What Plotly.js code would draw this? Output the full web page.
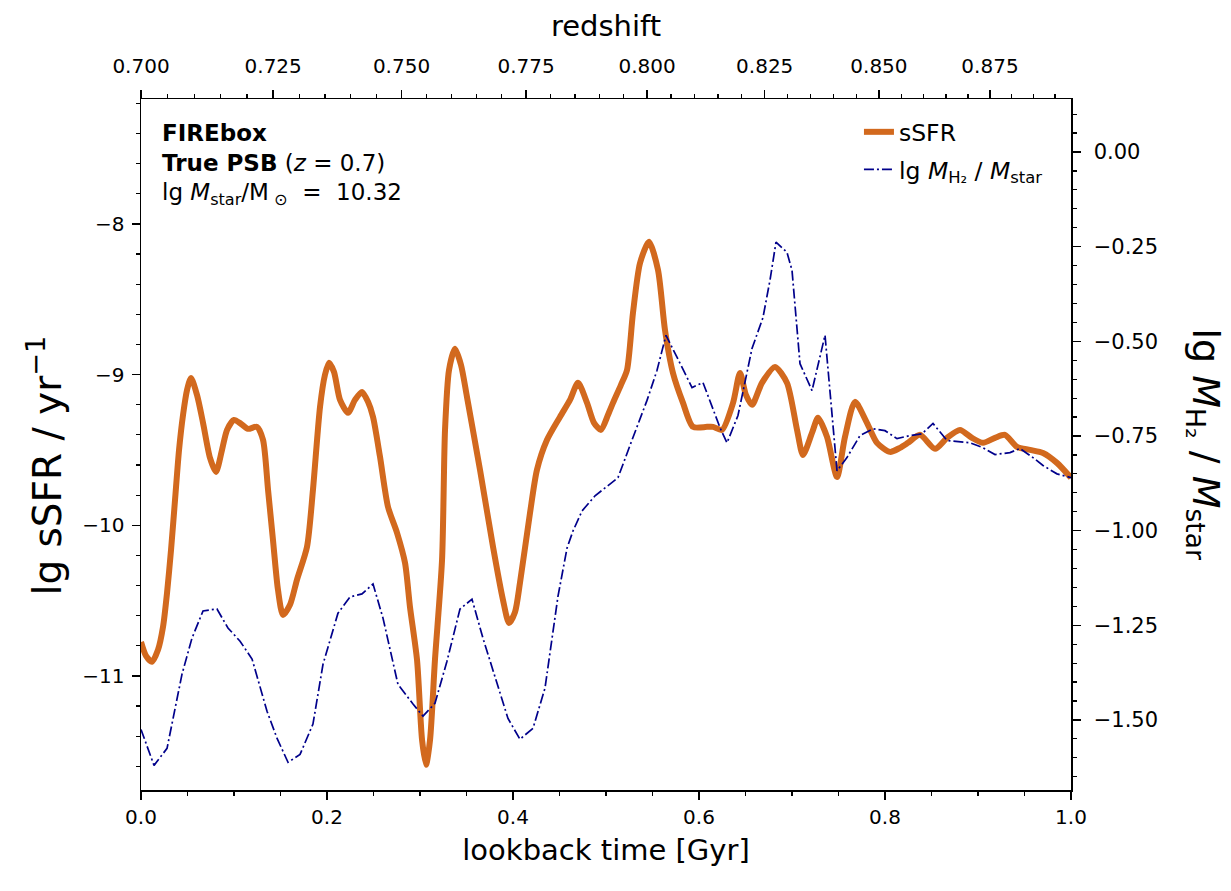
<!DOCTYPE html>
<html>
<head>
<meta charset="utf-8">
<script src="https://cdn.plot.ly/plotly-3.0.1.min.js"></script>
<style>
  html, body { margin: 0; padding: 0; background: #ffffff; }
  #chart { width: 1231px; height: 891px; }
</style>
</head>
<body>
<div id="chart"></div>
<script>
// Specific star formation rate of the galaxy (smoothed), lg sSFR / yr^-1
const lookbackSSFR = [
  0.0000, 0.0054, 0.0118, 0.0183, 0.0237, 0.0280, 0.0323, 0.0366, 0.0409, 0.0452,
  0.0495, 0.0538,
  0.0602, 0.0667, 0.0742, 0.0806, 0.0871, 0.0925, 0.1000, 0.1075, 0.1151, 0.1247,
  0.1312, 0.1366, 0.1419, 0.1473, 0.1527, 0.1602, 0.1677, 0.1785, 0.1849, 0.1925,
  0.1978, 0.2022, 0.2075, 0.2140, 0.2226, 0.2301, 0.2376, 0.2441, 0.2495, 0.2570,
  0.2656, 0.2753, 0.2839, 0.2892, 0.2968, 0.3022, 0.3065, 0.3108, 0.3161, 0.3237,
  0.3269, 0.3312, 0.3376, 0.3441, 0.3505, 0.3645, 0.3785, 0.3892, 0.3957, 0.4022,
  0.4075, 0.4183, 0.4258, 0.4366, 0.4505, 0.4613, 0.4699, 0.4796, 0.4871, 0.4946,
  0.5022, 0.5075, 0.5161, 0.5226, 0.5290, 0.5366, 0.5462, 0.5559, 0.5634, 0.5720,
  0.5828, 0.5935, 0.6086, 0.6151, 0.6247, 0.6366, 0.6441, 0.6505, 0.6570, 0.6677,
  0.6817, 0.6946, 0.7054, 0.7118, 0.7215, 0.7280, 0.7376, 0.7484, 0.7570, 0.7677,
  0.7806, 0.7914, 0.8054, 0.8161, 0.8247, 0.8376, 0.8538, 0.8667, 0.8806, 0.8935,
  0.9054, 0.9183, 0.9290, 0.9419, 0.9559, 0.9699, 0.9849, 1.0000
];
const sSFR = [
  -10.774, -10.867, -10.906, -10.827, -10.674, -10.449, -10.163, -9.831, -9.500, -9.267,
  -9.102, -9.022,
  -9.135, -9.320, -9.553, -9.646, -9.500, -9.367, -9.301, -9.327, -9.360, -9.347,
  -9.433, -9.765, -10.097, -10.429, -10.595, -10.528, -10.362, -10.143, -9.765, -9.214,
  -9.002, -8.922, -8.982, -9.168, -9.254, -9.168, -9.115, -9.181, -9.281, -9.546,
  -9.878, -10.050, -10.250, -10.541, -10.893, -11.424, -11.590, -11.424, -10.893, -10.230,
  -9.367, -8.969, -8.829, -8.936, -9.148, -9.632, -10.143, -10.495, -10.648, -10.575,
  -10.382, -9.918, -9.632, -9.433, -9.281, -9.168, -9.055, -9.188, -9.320, -9.367,
  -9.267, -9.188, -9.068, -8.969, -8.591, -8.259, -8.119, -8.305, -8.703, -8.989,
  -9.188, -9.347, -9.347, -9.347, -9.367, -9.188, -8.989, -9.135, -9.201, -9.055,
  -8.949, -9.055, -9.367, -9.533, -9.387, -9.287, -9.413, -9.679, -9.413, -9.181,
  -9.320, -9.453, -9.513, -9.486, -9.453, -9.400, -9.493, -9.420, -9.367, -9.420,
  -9.453, -9.420, -9.400, -9.480, -9.500, -9.520, -9.586, -9.685
];

// Molecular gas fraction, lg M_H2 / M_star
const lookbackH2 = [
  0.0000, 0.0140, 0.0280, 0.0387, 0.0441, 0.0548, 0.0667, 0.0817, 0.0935, 0.1065,
  0.1194, 0.1355, 0.1462, 0.1581, 0.1710, 0.1849, 0.1957, 0.2118, 0.2247, 0.2376,
  0.2495, 0.2602, 0.2763, 0.2925, 0.3032, 0.3161, 0.3290, 0.3430, 0.3559, 0.3677,
  0.3828, 0.3946, 0.4075, 0.4215, 0.4344, 0.4484, 0.4581, 0.4645, 0.4742, 0.4882,
  0.5022, 0.5129, 0.5290, 0.5441, 0.5548, 0.5645, 0.5796, 0.5925, 0.6043, 0.6118,
  0.6226, 0.6301, 0.6419, 0.6570, 0.6688, 0.6763, 0.6828, 0.6946, 0.7000, 0.7086,
  0.7215, 0.7355, 0.7484, 0.7591, 0.7731, 0.7871, 0.8000, 0.8129, 0.8269, 0.8398,
  0.8516, 0.8667, 0.8914, 0.9054, 0.9183, 0.9344, 0.9452, 0.9591, 0.9699, 0.9849,
  1.0000
];
const h2Frac = [
  -1.525, -1.620, -1.575, -1.450, -1.379, -1.284, -1.212, -1.207, -1.257, -1.292,
  -1.339, -1.477, -1.548, -1.612, -1.591, -1.511, -1.353, -1.218, -1.175, -1.167,
  -1.141, -1.231, -1.406, -1.458, -1.490, -1.456, -1.345, -1.207, -1.181, -1.284,
  -1.406, -1.496, -1.551, -1.522, -1.416, -1.173, -1.046, -1.001, -0.948, -0.908,
  -0.881, -0.860, -0.754, -0.656, -0.577, -0.484, -0.558, -0.622, -0.609, -0.656,
  -0.728, -0.768, -0.696, -0.519, -0.437, -0.339, -0.238, -0.265, -0.312, -0.559,
  -0.630, -0.484, -0.842, -0.807, -0.749, -0.731, -0.736, -0.757, -0.749, -0.744,
  -0.717, -0.762, -0.768, -0.781, -0.799, -0.794, -0.783, -0.807, -0.828, -0.850,
  -0.860
];

// Redshift labels for the upper axis
const redshiftMajor = [0.700, 0.725, 0.750, 0.775, 0.800, 0.825, 0.850, 0.875];
const redshiftMinorStep = 0.005;
const redshiftMinorMax = 0.895;

// Lookback time (Gyr) from z0 back to z in a flat LCDM cosmology
const H0 = 67.0, OmegaM = 0.31;
function lookbackBetween(z0, z) {
  const tH = 977.8 / H0;
  const n = 200;
  const h = (z - z0) / n;
  const f = zz => 1 / ((1 + zz) * Math.sqrt(OmegaM * Math.pow(1 + zz, 3) + (1 - OmegaM)));
  let s = f(z0) + f(z);
  for (let i = 1; i < n; i++) s += (i % 2 ? 4 : 2) * f(z0 + i * h);
  return tH * s * h / 3;
}
const zRef = redshiftMajor[0];
const topTickVals = redshiftMajor.map(z => lookbackBetween(zRef, z));
const topTickText = redshiftMajor.map(z => z.toFixed(3));
const topMinorVals = [];
for (let k = 0; ; k++) {
  const z = +(zRef + k * redshiftMinorStep).toFixed(3);
  if (z > redshiftMinorMax + 1e-9) break;
  if (redshiftMajor.some(m => Math.abs(m - z) < 1e-9)) continue;
  const t = lookbackBetween(zRef, z);
  if (t <= 1.0) topMinorVals.push(t);
}

const FONT = 'DejaVu Sans, sans-serif';
const axisCommon = {
  showline: true, linecolor: '#000', linewidth: 1.5,
  ticks: 'outside', ticklen: 8, tickwidth: 1.4, tickcolor: '#000',
  showgrid: false, zeroline: false,
  tickfont: {family: FONT, size: 20, color: '#000'}
};

const traces = [
  {
    x: lookbackSSFR, y: sSFR, xaxis: 'x', yaxis: 'y',
    type: 'scatter', mode: 'lines', name: 'sSFR', legendgroup: 'a',
    line: {color: '#D2691E', width: 6, shape: 'spline', smoothing: 0.7}
  },
  {
    x: lookbackH2, y: h2Frac, xaxis: 'x', yaxis: 'y2',
    type: 'scatter', mode: 'lines', legendgroup: 'b',
    name: 'lg <i>M</i><sub>H₂</sub> / <i>M</i><sub>star</sub>',
    line: {color: '#00008B', width: 1.7, dash: '10px,3px,2px,3px'}
  },
  // invisible trace carrying the upper (redshift) axis
  {
    x: [0, 1], y: [null, null], xaxis: 'x2', yaxis: 'y',
    type: 'scatter', mode: 'lines', showlegend: false, hoverinfo: 'skip'
  }
];

const layout = {
  width: 1231, height: 891,
  margin: {l: 141, r: 160, t: 99, b: 101},
  paper_bgcolor: '#fff', plot_bgcolor: '#fff',
  font: {family: FONT, color: '#000'},
  showlegend: true,
  legend: {
    x: 0.772, y: 0.984, xanchor: 'left', yanchor: 'top',
    bgcolor: 'rgba(0,0,0,0)', borderwidth: 0,
    font: {family: FONT, size: 23.5, color: '#000'},
    tracegroupgap: 4
  },
  xaxis: Object.assign({}, axisCommon, {
    range: [0, 1], side: 'bottom', anchor: 'y',
    dtick: 0.2, tick0: 0, tickformat: '.1f',
    minor: {dtick: 0.05, ticklen: 4, tickwidth: 1.2, tickcolor: '#000', ticks: 'outside'},
    title: {text: 'lookback time [Gyr]', font: {family: FONT, size: 29}, standoff: 12}
  }),
  xaxis2: Object.assign({}, axisCommon, {
    range: [0, 1], side: 'top', overlaying: 'x', anchor: 'y',
    tickmode: 'array', tickvals: topTickVals, ticktext: topTickText,
    ticklabelstandoff: 9,
    minor: {tickmode: 'array', tickvals: topMinorVals, ticklen: 4, tickwidth: 1.2, tickcolor: '#000', ticks: 'outside'},
    title: {text: 'redshift', font: {family: FONT, size: 29}, standoff: 8}
  }),
  yaxis: Object.assign({}, axisCommon, {
    range: [-11.757, -7.171], side: 'left', anchor: 'x',
    tickmode: 'array', tickvals: [-8, -9, -10, -11],
    ticklabelstandoff: 3,
    minor: {dtick: 0.2, tick0: -8, ticklen: 4, tickwidth: 1.2, tickcolor: '#000', ticks: 'outside'}
  }),
  yaxis2: Object.assign({}, axisCommon, {
    range: [-1.685, 0.140], side: 'right', overlaying: 'y', anchor: 'x',
    dtick: 0.25, tick0: 0, tickformat: '.2f',
    ticklabelstandoff: 9,
    tickfont: {family: FONT, size: 21, color: '#000'},
    minor: {dtick: 0.05, tick0: 0, ticklen: 4, tickwidth: 1.2, tickcolor: '#000', ticks: 'outside'}
  }),
  annotations: [
    {xref: 'paper', yref: 'paper', x: 0.02, y: 0.951, xanchor: 'left', yanchor: 'middle',
     showarrow: false, text: '<b>FIREbox</b>', font: {family: FONT, size: 23}},
    {xref: 'paper', yref: 'paper', x: 0.02, y: 0.907, xanchor: 'left', yanchor: 'middle',
     showarrow: false, text: '<b>True PSB</b> (<i>z</i> = 0.7)', font: {family: FONT, size: 23}},
    {xref: 'paper', yref: 'paper', x: 0.02, y: 0.862, xanchor: 'left', yanchor: 'middle',
     showarrow: false, text: 'lg <i>M</i><sub>star</sub>/M<sub> ⊙</sub>  =  10.32', font: {family: FONT, size: 23}},
    // left-hand axis title
    {xref: 'paper', yref: 'paper', x: -0.103, y: 0.47, xanchor: 'center', yanchor: 'middle',
     showarrow: false, textangle: -90,
     text: 'lg sSFR / yr<sup>−1</sup>', font: {family: FONT, size: 39}},
    // right-hand axis title, reading top to bottom
    {xref: 'paper', yref: 'paper', x: 1.143, y: 0.5, xanchor: 'center', yanchor: 'middle',
     showarrow: false, textangle: 90,
     text: 'lg <i>M</i><sub>H₂</sub> / <i>M</i><sub>star</sub>', font: {family: FONT, size: 38}}
  ]
};

Plotly.newPlot('chart', traces, layout, {staticPlot: true, displayModeBar: false});
</script>
</body>
</html>
